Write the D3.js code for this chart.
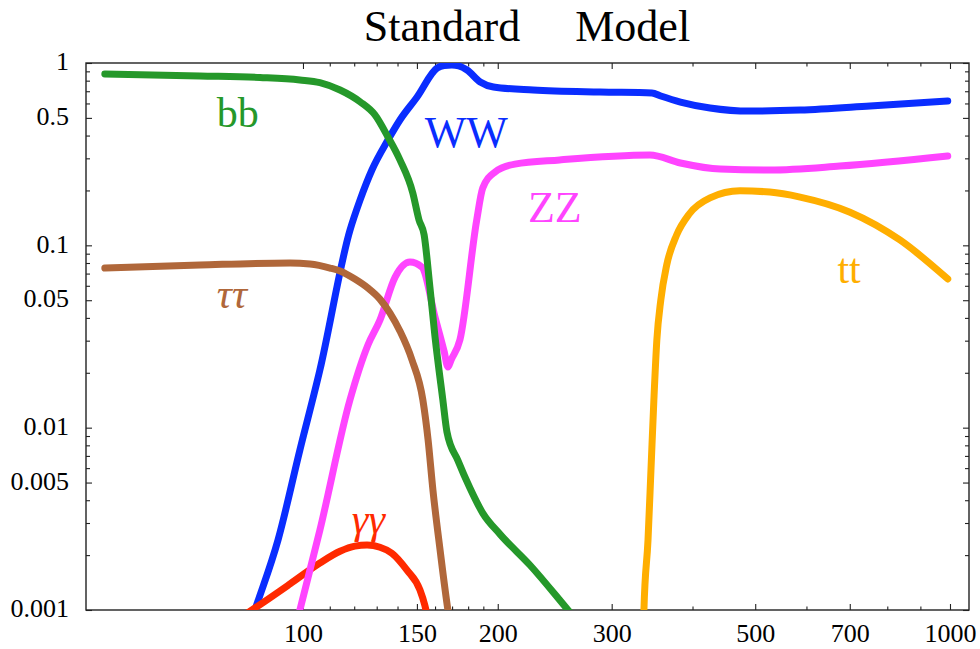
<!DOCTYPE html>
<html>
<head>
<meta charset="utf-8">
<script src="https://cdn.jsdelivr.net/npm/d3@7"></script>
<style>
  body { margin: 0; background: #fff; }
  svg { display: block; }
</style>
</head>
<body>
<div id="container"></div>
<script>
// branching ratios, [mass GeV, BR]
let bb = [[49.4,0.87],[69.3,0.849],[85.8,0.833],[98.9,0.807],[106.2,0.78],[114.1,0.711],
  [122.5,0.613],[129.2,0.519],[135.3,0.393],[141.2,0.294],[147.8,0.194],[151.1,0.138],
  [153.9,0.114],[157.1,0.059],[160,0.0314],[164.5,0.0142],[166.9,0.0095],[173.6,0.0066],
  [181,0.0047],[189.6,0.0034],[201.7,0.0026],[224.4,0.00176],[256.8,0.001],[270,0.00081]];
let tautau = [[49.4,0.0751],[69.3,0.078],[95.5,0.080],[102.5,0.079],[110.1,0.0751],
  [114.1,0.0723],[120.3,0.0653],[126,0.0583],[131.5,0.0507],[136.3,0.0425],[141.2,0.0339],
  [147.4,0.0235],[153.2,0.0142],[156.1,0.00855],[158.8,0.00455],[162.9,0.00213],
  [167.5,0.001],[168.9,0.00083]];
let gamgam = [[81.6,0.00095],[83.4,0.001],[95.5,0.00139],[106.2,0.00181],[114.1,0.0021],
  [120.3,0.00224],[125.6,0.00227],[131.5,0.00221],[137.2,0.00205],[144.7,0.00166],
  [151.6,0.00129],[154.3,0.00106],[156.1,0.00088]];
let ww = [[83.4,0.00089],[84.3,0.001],[91.5,0.00242],[98.9,0.00753],[106.2,0.0207],[118.2,0.121],
  [122.5,0.177],[127.8,0.259],[135.3,0.378],[141.2,0.487],[150.1,0.651],[161.2,0.939],
  [165.3,0.969],[169.9,0.975],[174.1,0.963],[179.3,0.915],[187.9,0.787],[197,0.739],
  [226.9,0.711],[287.8,0.693],[346.2,0.685],[357.3,0.659],[383.2,0.611],[425.7,0.567],
  [490.5,0.545],[586.6,0.552],[752.4,0.581],[992,0.619]];
let zz = [[97,0.00076],[98.9,0.001],[106.2,0.00274],[118.2,0.0142],[126,0.0284],[131.5,0.0389],
  [138.8,0.067],[146.3,0.081],[152.7,0.076],[160,0.0404],[165.3,0.0261],[167.5,0.0215],
  [169.4,0.0235],[174.8,0.0303],[185.6,0.138],[189.6,0.206],[197.9,0.252],[212.6,0.279],
  [249.2,0.294],[343.7,0.313],[383.2,0.283],[441.5,0.262],[526.7,0.259],[675.6,0.272],
  [992,0.309]];
let tt = [[336,0.0008],[336.5,0.001],[341.4,0.00242],[345,0.00585],[348.6,0.01417],[352.3,0.0302],
  [357.3,0.0501],[364.9,0.078],[378,0.1139],[395.3,0.1485],[425.7,0.182],[473.6,0.199],
  [526.7,0.196],[586.6,0.184],[700.6,0.152],[836.7,0.107],[992,0.0654]];

let xMajor = [100,150,200,300,500,700,1000];
let xMinor = [110,120,130,140,160,170,180,190,400,600,800,900];
let yMajor = [1,0.5,0.1,0.05,0.01,0.005,0.001];
let yLabels = ["1","0.5","0.1","0.05","0.01","0.005","0.001"];
let yMinor = [0.9,0.8,0.7,0.6,0.4,0.3,0.2,0.09,0.08,0.07,0.06,0.04,0.03,0.02,
  0.009,0.008,0.007,0.006,0.004,0.003,0.002];

let w = 980;
let h = 649;
let L = 86, R = 969, T = 63, B = 610;
let serif = "'Liberation Serif','Times New Roman',serif";

let viz = d3.select("#container").append("svg")
    .attr("width", w)
    .attr("height", h);

let x = d3.scaleLog().domain([46.2, 1070]).range([L, R]);
let y = d3.scaleLog().domain([0.001, 1]).range([B, T]);

viz.append("defs").append("clipPath")
    .attr("id", "frame")
  .append("rect")
    .attr("x", L).attr("y", T)
    .attr("width", R - L).attr("height", B - T);

// title
viz.append("text")
    .text("Standard     Model")
    .attr("x", 527)
    .attr("y", 41)
    .attr("text-anchor", "middle")
    .style("white-space", "pre")
    .attr("font-size", 44)
    .attr("font-family", serif)
    .attr("fill", "#000");

// axes
function axisStyle(g) {
  g.attr("font-family", serif).attr("font-size", 26);
  g.select(".domain").remove();
  g.selectAll("line").attr("stroke", "#222").attr("stroke-width", 1.1);
  g.selectAll("text").attr("font-family", serif).attr("font-size", 26).attr("fill", "#000");
}
viz.append("g").attr("transform", "translate(" + L + ",0)")
    .call(d3.axisLeft(y).tickValues(yMajor).tickFormat((d, i) => yLabels[i])
      .tickSizeInner(-6).tickSizeOuter(0).tickPadding(17))
    .call(axisStyle)
    .selectAll("text").attr("dy", "0.26em");
viz.append("g").attr("transform", "translate(" + L + ",0)")
    .call(d3.axisLeft(y).tickValues(yMinor).tickFormat("").tickSizeInner(-4).tickSizeOuter(0))
    .call(axisStyle);
viz.append("g").attr("transform", "translate(" + R + ",0)")
    .call(d3.axisRight(y).tickValues(yMajor).tickFormat("").tickSizeInner(-6).tickSizeOuter(0))
    .call(axisStyle);
viz.append("g").attr("transform", "translate(" + R + ",0)")
    .call(d3.axisRight(y).tickValues(yMinor).tickFormat("").tickSizeInner(-4).tickSizeOuter(0))
    .call(axisStyle);
viz.append("g").attr("transform", "translate(0," + B + ")")
    .call(d3.axisBottom(x).tickValues(xMajor).tickFormat(d3.format("d"))
      .tickSizeInner(-6).tickSizeOuter(0).tickPadding(14))
    .call(axisStyle);
viz.append("g").attr("transform", "translate(0," + B + ")")
    .call(d3.axisBottom(x).tickValues(xMinor).tickFormat("").tickSizeInner(-3.5).tickSizeOuter(0))
    .call(axisStyle);
viz.append("g").attr("transform", "translate(0," + T + ")")
    .call(d3.axisTop(x).tickValues(xMajor).tickFormat("").tickSizeInner(-6).tickSizeOuter(0))
    .call(axisStyle);
viz.append("g").attr("transform", "translate(0," + T + ")")
    .call(d3.axisTop(x).tickValues(xMinor).tickFormat("").tickSizeInner(-3.5).tickSizeOuter(0))
    .call(axisStyle);

viz.append("rect")
    .attr("x", L).attr("y", T)
    .attr("width", R - L).attr("height", B - T)
    .attr("fill", "none")
    .attr("stroke", "#222")
    .attr("stroke-width", 1.4);

// curves
let line = d3.line()
    .x(d => x(d[0]))
    .y(d => y(d[1]))
    .curve(d3.curveMonotoneX);

let curves = [
  [ww, "#0a2dff"],
  [gamgam, "#ff2a00"],
  [zz, "#ff44ff"],
  [tautau, "#b0673a"],
  [bb, "#25982a"],
  [tt, "#ffae00"]
];
let lines = viz.append("g").attr("clip-path", "url(#frame)");
curves.forEach(c => {
  lines.append("path")
    .attr("d", line(c[0]))
    .attr("fill", "none")
    .attr("stroke", c[1])
    .attr("stroke-width", 7)
    .attr("stroke-linecap", "round")
    .attr("stroke-linejoin", "round");
});

// channel labels
function label(txt, m, br, col, italic, size) {
  viz.append("text")
    .text(txt)
    .attr("x", x(m))
    .attr("y", y(br))
    .attr("font-size", size)
    .attr("font-family", serif)
    .attr("font-style", italic ? "italic" : "normal")
    .attr("fill", col);
}
label("bb", 73.6, 0.446, "#25982a", false, 42);
label("WW", 154.3, 0.346, "#0a2dff", false, 44);
label("ZZ", 222.7, 0.134, "#ff44ff", false, 44);
label("tt", 670, 0.0622, "#ffae00", false, 42);
label("\u03c4\u03c4", 73.6, 0.0452, "#b0673a", true, 42);
label("\u03b3\u03b3", 119, 0.00266, "#ff2a00", true, 42);
</script>
</body>
</html>
